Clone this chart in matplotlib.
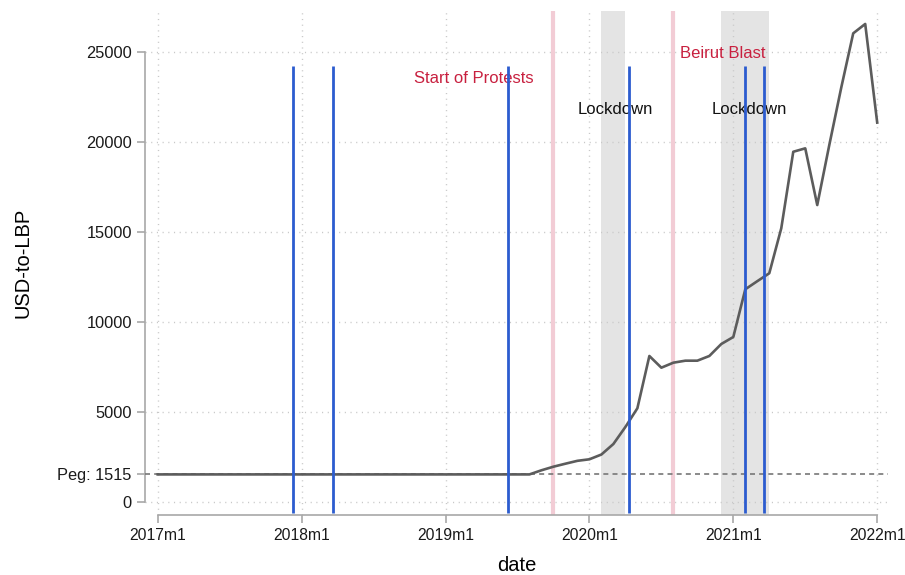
"""USD-to-LBP parallel rate with event markers (Stata-style look)."""
import matplotlib
matplotlib.use("Agg")
import matplotlib.pyplot as plt

plt.rcParams["font.family"] = ["Liberation Sans", "DejaVu Sans"]

# monthly series, 2017m1 .. 2022m1 (month index 0 .. 60)
usd_lbp = [1515] * 32 + [
    1744, 1944, 2110, 2270, 2355, 2620, 3205, 4150, 5190, 8094,
    7444, 7722, 7833, 7833, 8094, 8761, 9150, 11800, 12250, 12690,
    15190, 19440, 19630, 16480, 19800, 23000, 26020, 26540, 21060,
]
months = list(range(len(usd_lbp)))

year_ticks = [0, 12, 24, 36, 48, 60]
year_labels = ["2017m1", "2018m1", "2019m1", "2020m1", "2021m1", "2022m1"]

y_ticks = [0, 1515, 5000, 10000, 15000, 20000, 25000]
y_labels = ["0", "Peg: 1515", "5000", "10000", "15000", "20000", "25000"]
peg = 1515

# event markers (fractional month index)
blue_events = [11.3, 14.6, 29.2, 39.3, 49.0, 50.55]
blue_top = 24200
pink_events = [33, 43]
lockdowns = [(37, 39), (47, 49), (49, 51)]

notes = [  # text, x (month), y, colour
    ("Start of Protests", 26.4, 23250, "#c8203f"),
    ("Beirut Blast", 47.1, 24650, "#c8203f"),
    ("Lockdown", 38.2, 21550, "#111111"),
    ("Lockdown", 49.3, 21550, "#111111"),
]

LINE = "#5c5c5c"
BLUE = "#2c5ccf"
PINK = "#f2ccd5"
SHADE = "#e4e4e4"
AXIS = "#a8a8a8"
GRID = "#c8c8c8"

fig = plt.figure(figsize=(9.05, 5.75), dpi=100)
ax = fig.add_axes([145 / 905, 60 / 575, 743 / 905, 504 / 575])
ax.set_xlim(-1.06, 60.9)
ax.set_ylim(-740, 27260)

for a, b in lockdowns:
    ax.axvspan(a, b, color=SHADE, lw=0, zorder=0)

# grid (dotted)
for x in year_ticks:
    ax.axvline(x, color=GRID, lw=1.0, ls=(0, (0.8, 3.3)), zorder=1)
for y in [0, 5000, 10000, 15000, 20000, 25000]:
    ax.axhline(y, color=GRID, lw=1.0, ls=(0, (0.8, 3.3)), zorder=1)

for x in pink_events:
    ax.axvline(x, color=PINK, lw=3.0, zorder=2)

ax.axhline(peg, color="#777777", lw=1.2, ls=(0, (3, 2.5)), zorder=3)

for text, x, y, c in notes:
    ax.text(x, y, text, color=c, fontsize=12, ha="center", va="baseline",
            zorder=3)

ax.plot(months, usd_lbp, color=LINE, lw=1.9, zorder=4)
ax.vlines(blue_events, -650, blue_top, color=BLUE, lw=2.0, zorder=5)

for side in ["top", "right"]:
    ax.spines[side].set_visible(False)
ax.spines["left"].set_bounds(0, 25000)
ax.spines["bottom"].set_bounds(0, 60)
for side in ["left", "bottom"]:
    ax.spines[side].set_color(AXIS)
    ax.spines[side].set_linewidth(1.2)

ax.set_xticks(year_ticks, year_labels)
ax.set_yticks(y_ticks, y_labels)
ax.tick_params(axis="both", colors=AXIS, labelcolor="#1a1a1a",
               labelsize=11.8, length=6, width=1.2, direction="out")
ax.tick_params(axis="x", labelsize=11.3)
ax.set_xlabel("date", fontsize=14.5, labelpad=9)
ax.set_ylabel("USD-to-LBP", fontsize=14.5, labelpad=18)

fig.savefig("out.png", dpi=100, facecolor="white")
